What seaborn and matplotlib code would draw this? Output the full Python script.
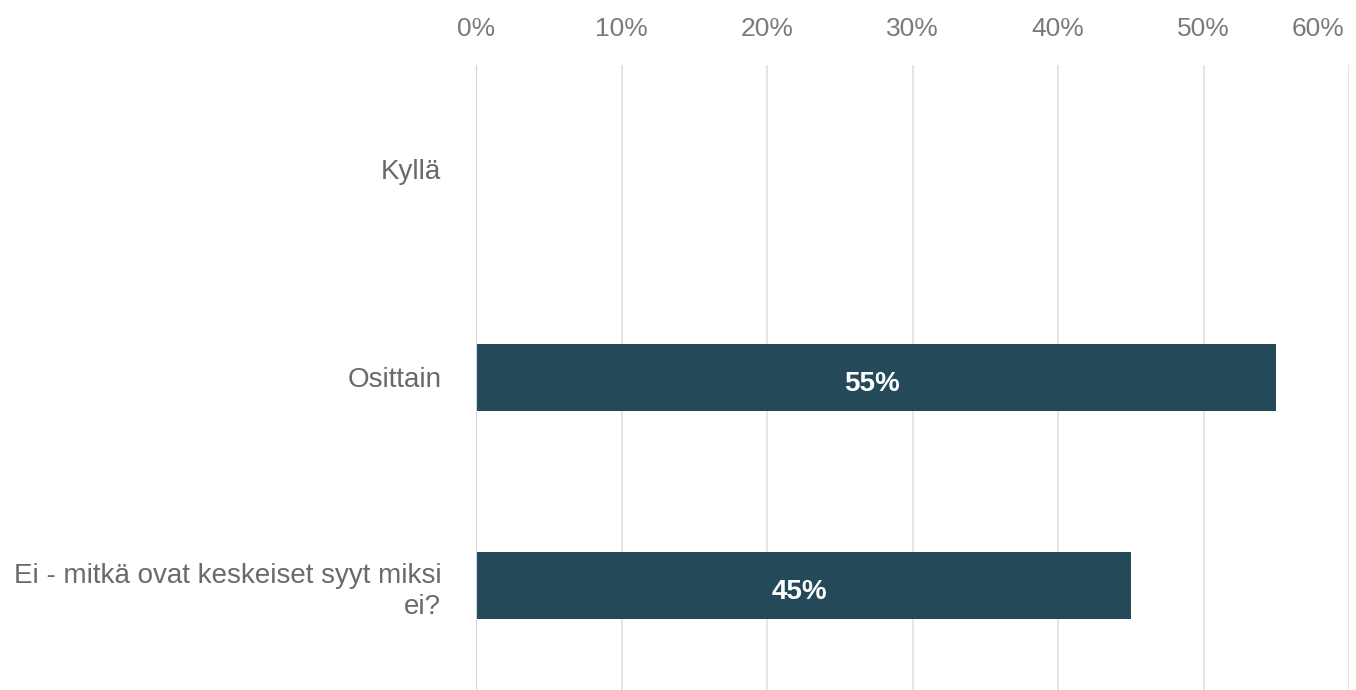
import pandas as pd
import numpy as np
import seaborn as sns
import matplotlib
matplotlib.use('Agg')
import matplotlib.pyplot as plt
import matplotlib.transforms as mtransforms
from matplotlib.ticker import FuncFormatter

# values
categories = ['Kyllä', 'Osittain', 'Ei - mitkä ovat keskeiset syyt miksi\nei?']
shares = [0, 55, 45]
xticks = [0, 10, 20, 30, 40, 50, 60]

df = pd.DataFrame({'vastaus': categories, 'osuus': shares})

sns.set_style('white')
plt.rcParams['font.family'] = ['Liberation Sans', 'DejaVu Sans']

fig = plt.figure(figsize=(13.56, 6.9), dpi=100)
ax = fig.add_axes([0.351, 0.0, 0.644, 0.906])

sns.barplot(data=df, x='osuus', y='vastaus', orient='h', color='#244a5a',
            saturation=1, width=0.32, linewidth=0, ax=ax)

ax.set_xlim(0, 60)
ax.set_ylim(2.5, -0.5)
ax.set_xticks(xticks)
ax.xaxis.set_major_formatter(FuncFormatter(lambda v, p: f'{v:.0f}%'))
ax.xaxis.tick_top()
ax.tick_params(axis='x', length=0, pad=17, labelsize=19, labelcolor='#7a7a7a')
ax.set_xlabel('')
ax.set_ylabel('')

# last tick label sits inside the figure, right-aligned a bit left of its gridline
last = ax.get_xticklabels()[-1]
last.set_horizontalalignment('right')
last.set_transform(last.get_transform() +
                   mtransforms.ScaledTranslation(-5 / 100, 0, fig.dpi_scale_trans))

ax.set_yticks(range(len(categories)))
ax.set_yticklabels(categories, ha='right', multialignment='right', linespacing=1.25)
ax.tick_params(axis='y', length=0, pad=25, labelsize=20, labelcolor='#6a6a6a')

ax.grid(axis='x', color='#e3e3e3', linewidth=1.3)
ax.set_axisbelow(True)
for s in ax.spines.values():
    s.set_visible(False)
ax.axvline(0, color='#c9d3ea', linewidth=1.5, zorder=3)

for i, v in enumerate(shares):
    if v > 0:
        ax.text(v / 2 - 0.3, i + 0.03, f'{v}%', ha='center', va='center', color='white',
                fontsize=20, fontweight='bold')

fig.savefig('out.png', dpi=100)
